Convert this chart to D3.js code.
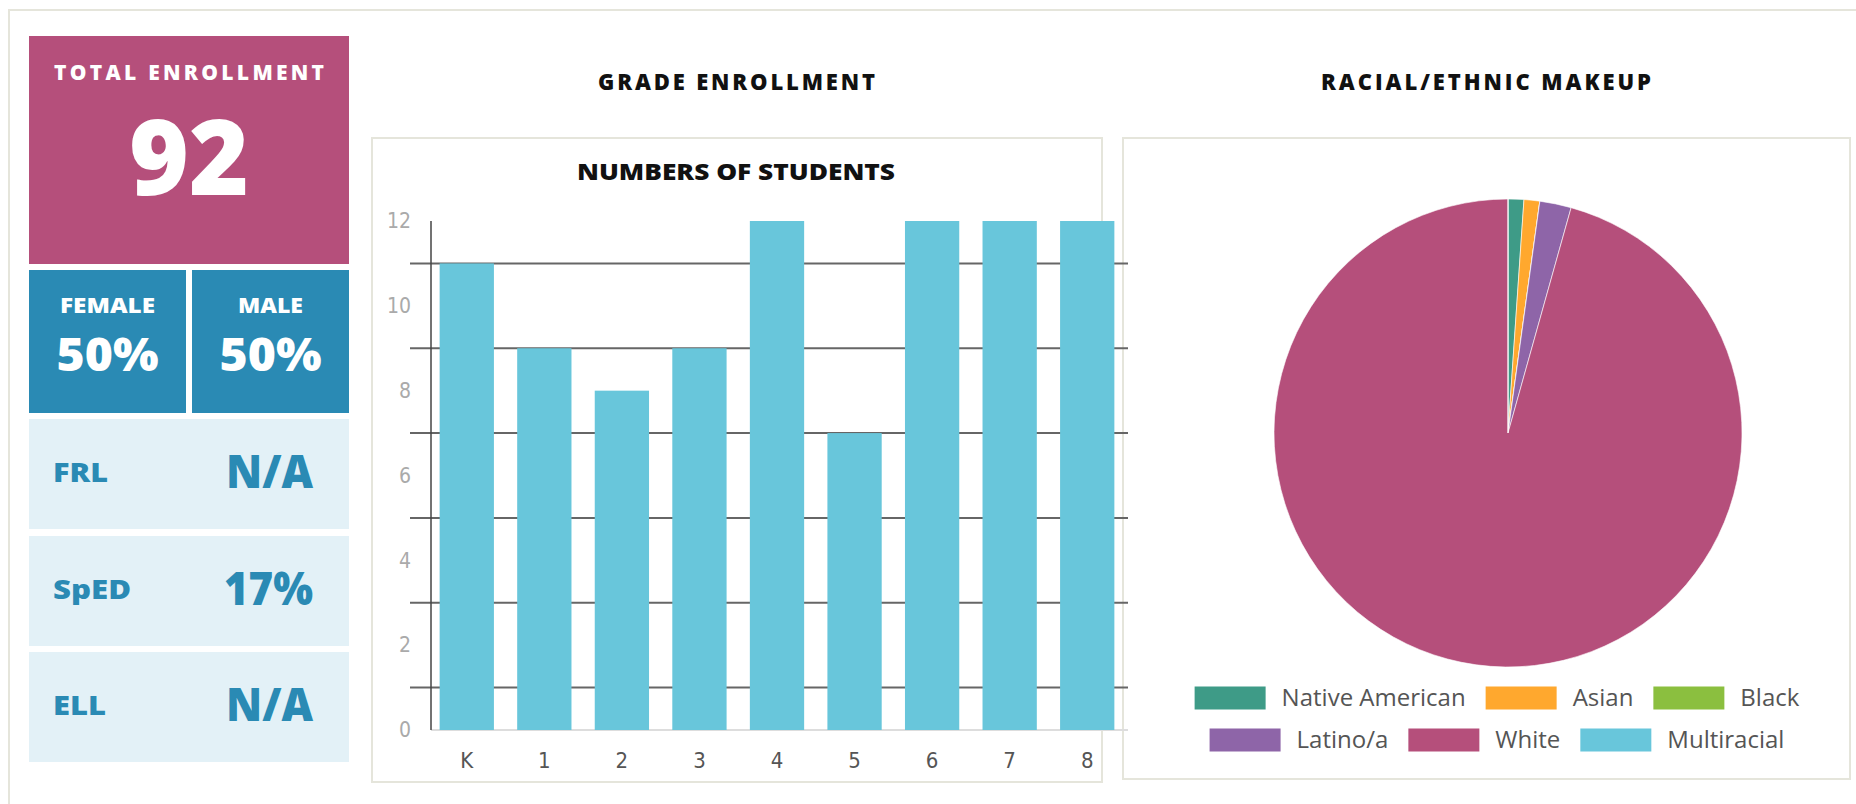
<!DOCTYPE html>
<html>
<head>
<meta charset="utf-8">
<script src="https://cdn.jsdelivr.net/npm/d3@7"></script>
<style>
  body { margin: 0; background: #fff; }
  svg { display: block; }
  .head { font-family: "Open Sans", "DejaVu Sans", sans-serif; font-weight: 800; }
</style>
</head>
<body>
<div id="dashboard"></div>
<script>
// Data
const totalEnrollment = 92;
const genderLabels = ["FEMALE", "MALE"];
const genderValues = ["50%", "50%"];
const statLabels = ["FRL", "SpED", "ELL"];
const statValues = ["N/A", "17%", "N/A"];

const grades = ["K", "1", "2", "3", "4", "5", "6", "7", "8"];
const students = [11, 9, 8, 9, 12, 7, 12, 12, 12];
const yTicks = [0, 2, 4, 6, 8, 10, 12];
const gridValues = [1, 3, 5, 7, 9, 11];

const races = ["Native American", "Asian", "Black", "Latino/a", "White", "Multiracial"];
const raceCounts = [1, 1, 0, 2, 88, 0];
const raceColors = ["#3e9b87", "#ffa82e", "#8bbf3f", "#8e65a8", "#b54f7b", "#68c6db"];

const width = 1856, height = 804;
const frameColor = "#e5e5db";

const svg = d3.select("#dashboard")
  .append("svg")
    .attr("width", width)
    .attr("height", height);

// Outer frame (top + left edge only visible)
svg.append("line").attr("x1", 8).attr("x2", width).attr("y1", 10).attr("y2", 10)
    .attr("stroke", frameColor).attr("stroke-width", 2);
svg.append("line").attr("x1", 9).attr("x2", 9).attr("y1", 10).attr("y2", height)
    .attr("stroke", frameColor).attr("stroke-width", 2);

// ---------- Left stat boxes ----------
const left = svg.append("g");

left.append("rect").attr("x", 29).attr("y", 36).attr("width", 320).attr("height", 228).attr("fill", "#b54f7b");
left.append("text").attr("class", "head")
    .attr("x", 189).attr("y", 80).attr("text-anchor", "middle")
    .attr("font-size", 21).attr("fill", "#fff")
    .attr("textLength", 270).attr("lengthAdjust", "spacing")
    .text("TOTAL ENROLLMENT");
left.append("text").attr("class", "head")
    .attr("x", 189).attr("y", 195).attr("text-anchor", "middle")
    .attr("font-size", 104).attr("fill", "#fff")
    .attr("textLength", 120).attr("lengthAdjust", "spacingAndGlyphs")
    .text(totalEnrollment);

// gender boxes
const gx = [29, 192];
genderLabels.forEach((lab, i) => {
  const cx = gx[i] + 78.5;
  left.append("rect").attr("x", gx[i]).attr("y", 270).attr("width", 157).attr("height", 143).attr("fill", "#2a8ab4");
  left.append("text").attr("class", "head")
      .attr("x", cx).attr("y", 313).attr("text-anchor", "middle")
      .attr("font-size", 21).attr("fill", "#fff")
      .attr("textLength", i === 0 ? 95 : 65).attr("lengthAdjust", "spacingAndGlyphs")
      .text(lab);
  left.append("text").attr("class", "head")
      .attr("x", cx).attr("y", 371).attr("text-anchor", "middle")
      .attr("font-size", 46).attr("fill", "#fff")
      .attr("textLength", 102).attr("lengthAdjust", "spacingAndGlyphs")
      .text(genderValues[i]);
});

// FRL / SpED / ELL
const statTop = [419, 536, 652];
const labelWidths = [55, 78, 53];
const valueWidths = [87, 89, 87];
statLabels.forEach((lab, i) => {
  const y0 = statTop[i];
  left.append("rect").attr("x", 29).attr("y", y0).attr("width", 320).attr("height", 110).attr("fill", "#e3f1f7");
  left.append("text").attr("class", "head")
      .attr("x", 53).attr("y", y0 + 63)
      .attr("font-size", 26).attr("fill", "#2a8ab4")
      .attr("textLength", labelWidths[i]).attr("lengthAdjust", "spacingAndGlyphs")
      .text(lab);
  left.append("text").attr("class", "head")
      .attr("x", 313).attr("y", y0 + 69).attr("text-anchor", "end")
      .attr("font-size", 46).attr("fill", "#2a8ab4")
      .attr("textLength", valueWidths[i]).attr("lengthAdjust", "spacingAndGlyphs")
      .text(statValues[i]);
});

// ---------- Section titles ----------
svg.append("text").attr("class", "head")
    .attr("x", 736.5).attr("y", 90).attr("text-anchor", "middle")
    .attr("font-size", 22).attr("fill", "#111")
    .attr("textLength", 277).attr("lengthAdjust", "spacing")
    .text("GRADE ENROLLMENT");
svg.append("text").attr("class", "head")
    .attr("x", 1486).attr("y", 90).attr("text-anchor", "middle")
    .attr("font-size", 22).attr("fill", "#111")
    .attr("textLength", 330).attr("lengthAdjust", "spacing")
    .text("RACIAL/ETHNIC MAKEUP");

// Panels
svg.append("rect").attr("x", 372).attr("y", 138).attr("width", 730).attr("height", 644)
    .attr("fill", "none").attr("stroke", frameColor).attr("stroke-width", 2);
svg.append("rect").attr("x", 1123).attr("y", 138).attr("width", 727).attr("height", 641)
    .attr("fill", "none").attr("stroke", frameColor).attr("stroke-width", 2);

// ---------- Bar chart ----------
svg.append("text").attr("class", "head")
    .attr("x", 736).attr("y", 180).attr("text-anchor", "middle")
    .attr("font-size", 23).attr("fill", "#111")
    .attr("textLength", 318).attr("lengthAdjust", "spacingAndGlyphs")
    .text("NUMBERS OF STUDENTS");

const x = d3.scaleBand()
    .domain(grades)
    .range([428, 1126])
    .paddingInner(0.3)
    .paddingOuter(0.15);

const y = d3.scaleLinear()
    .domain([0, 12])
    .range([730, 221]);

// gridlines (sit on the odd values)
svg.append("g")
  .selectAll("line")
  .data(gridValues)
  .join("line")
    .attr("x1", 410).attr("x2", 1128)
    .attr("y1", d => y(d)).attr("y2", d => y(d))
    .attr("stroke", "#666").attr("stroke-width", 2);

// baseline
svg.append("line").attr("x1", 431).attr("x2", 1128).attr("y1", y(0)).attr("y2", y(0))
    .attr("stroke", "#ddd").attr("stroke-width", 2);

// bars
svg.append("g")
  .selectAll("rect")
  .data(students)
  .join("rect")
    .attr("x", (d, i) => x(grades[i]))
    .attr("y", d => y(d))
    .attr("width", x.bandwidth())
    .attr("height", d => y(0) - y(d))
    .attr("fill", "#68c6db");

// y axis line
svg.append("line").attr("x1", 431).attr("x2", 431).attr("y1", y(12)).attr("y2", y(0))
    .attr("stroke", "#444").attr("stroke-width", 1.5);

// Y axis labels
const yAxis = svg.append("g")
    .attr("transform", "translate(431,0)")
    .call(d3.axisLeft(y).tickValues(yTicks).tickSize(0).tickPadding(20));
yAxis.select(".domain").remove();
yAxis.selectAll("text")
    .attr("font-family", "'Liberation Sans Narrow', 'DejaVu Sans Condensed', sans-serif")
    .attr("font-size", 21).attr("fill", "#aaa");

// X axis labels
const xAxis = svg.append("g")
    .attr("transform", `translate(0,${y(0)})`)
    .call(d3.axisBottom(x).tickSize(0).tickPadding(22));
xAxis.select(".domain").remove();
xAxis.selectAll("text")
    .attr("font-family", "'Liberation Sans Narrow', 'DejaVu Sans Condensed', sans-serif")
    .attr("font-size", 22).attr("fill", "#555");

// ---------- Pie chart ----------
const pie = d3.pie().sort(null).value(d => d);
const arc = d3.arc().innerRadius(0).outerRadius(234);

svg.append("g")
    .attr("transform", "translate(1508,433)")
  .selectAll("path")
  .data(pie(raceCounts))
  .join("path")
    .attr("d", arc)
    .attr("fill", (d, i) => raceColors[i])
    .attr("stroke", "#fff")
    .attr("stroke-width", 0.6);

// Legend: two centred rows
const legendRows = [[0, 1, 2], [3, 4, 5]];
const legendY = [698, 740];
const swW = 71, swH = 23, gapText = 16, gapItem = 20;
const legend = svg.append("g");
legendRows.forEach((row, r) => {
  const g = legend.append("g");
  let cursor = 0;
  row.forEach(i => {
    g.append("rect")
        .attr("x", cursor).attr("y", legendY[r] - swH / 2)
        .attr("width", swW).attr("height", swH)
        .attr("fill", raceColors[i]);
    const t = g.append("text")
        .attr("x", cursor + swW + gapText).attr("y", legendY[r])
        .attr("dy", "0.35em")
        .attr("font-family", "'Open Sans', sans-serif")
        .attr("font-size", 24).attr("fill", "#555")
        .text(races[i]);
    cursor += swW + gapText + t.node().getComputedTextLength() + gapItem;
  });
  const rowW = cursor - gapItem;
  g.attr("transform", `translate(${1497 - rowW / 2},0)`);
});
</script>
</body>
</html>
